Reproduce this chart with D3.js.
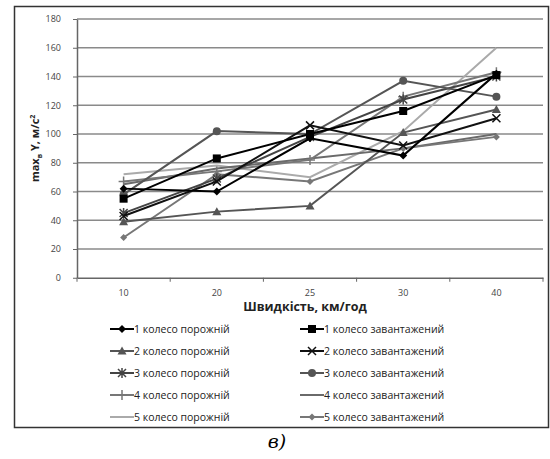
<!DOCTYPE html>
<html>
<head>
<meta charset="utf-8">
<script src="https://cdn.jsdelivr.net/npm/d3@7"></script>
<style>
	body { margin: 0; background: #fff; }
	text { font-family: "Open Sans", "Liberation Sans", sans-serif; }
</style>
</head>
<body>
<div id="chart"></div>
<script>
// speeds, km/h
var speeds = ["10", "20", "25", "30", "40"];
var yTicks = [0, 20, 40, 60, 80, 100, 120, 140, 160, 180];

var names = [
	"1 колесо порожній", "1 колесо завантажений",
	"2 колесо порожній", "2 колесо завантажений",
	"3 колесо порожній", "3 колесо завантажений",
	"4 колесо порожній", "4 колесо завантажений",
	"5 колесо порожній", "5 колесо завантажений"
];

var wheel1Empty  = [62, 60, 97, 85, 142];
var wheel1Loaded = [55, 83, 100, 116, 141];
var wheel2Empty  = [39, 46, 50, 101, 117];
var wheel2Loaded = [43, 67, 106, 92, 111];
var wheel3Empty  = [45, 69, 98, 124, 140];
var wheel3Loaded = [58, 102, 100, 137, 126];
var wheel4Empty  = [67, 74, 82, 126, 143];
var wheel4Loaded = [65, 76, 83, 90, 100];
var wheel5Empty  = [72, 78, 70, 102, 160];
var wheel5Loaded = [28, 72, 67, 90, 98];

var allValues = [wheel1Empty, wheel1Loaded, wheel2Empty, wheel2Loaded, wheel3Empty,
	wheel3Loaded, wheel4Empty, wheel4Loaded, wheel5Empty, wheel5Loaded];

// look of each series: colour and marker
var looks = [
	{c: "#000", m: "diamond"},
	{c: "#000", m: "square"},
	{c: "#555", m: "triangle"},
	{c: "#111", m: "cross"},
	{c: "#444", m: "star"},
	{c: "#555", m: "circle"},
	{c: "#777", m: "plus"},
	{c: "#6a6a6a", m: "none"},
	{c: "#aaa", m: "none"},
	{c: "#777", m: "smalldiamond"}
];

function init(){
	var w = 550;
	var h = 459;
	var left = 77, right = 543, top = 19, bottom = 277.75;

	var svg = d3.select("#chart")
				.append("svg")
				.attr("width", w)
				.attr("height", h);

	// frame round the chart
	svg.append("rect")
		.attr("x", 14.5).attr("y", 6.5)
		.attr("width", 534).attr("height", 421)
		.attr("fill", "none")
		.attr("stroke", "#333")
		.attr("stroke-width", 1.5);

	var x = d3.scaleBand()
				.domain(speeds)
				.range([left, right]);

	var y = d3.scaleLinear()
				.domain([0, 180])
				.range([bottom, top]);

	//gridlines
	svg.selectAll("line.grid")
		.data(yTicks.slice(1))
		.enter()
		.append("line")
		.attr("class", "grid")
		.attr("x1", left).attr("x2", right)
		.attr("y1", function(d){ return y(d); })
		.attr("y2", function(d){ return y(d); })
		.attr("stroke", "#8a8a8a")
		.attr("stroke-width", 1.6);

	var yAxis = svg.append("g")
		.attr("transform", "translate(" + left + ",0)")
		.call(d3.axisLeft(y).tickValues(yTicks).tickSize(4).tickSizeOuter(0));
	yAxis.select(".domain").attr("stroke", "#666").attr("stroke-width", 1.5);
	yAxis.selectAll(".tick line").attr("stroke", "#666");
	yAxis.selectAll("text")
		.attr("x", -16)
		.style("font-size", "9px")
		.attr("fill", "#444");

	var xAxis = svg.append("g")
		.attr("transform", "translate(0," + bottom + ")")
		.call(d3.axisBottom(x).tickSize(0));
	xAxis.select(".domain").attr("stroke", "#666").attr("stroke-width", 1.5);
	xAxis.selectAll("text")
		.attr("y", 12)
		.style("font-size", "9px")
		.attr("fill", "#444");

	// tick marks at category edges
	svg.selectAll("line.xtick")
		.data(speeds.map(function(d){ return x(d); }).concat([right]))
		.enter()
		.append("line")
		.attr("x1", function(d){ return d; })
		.attr("x2", function(d){ return d; })
		.attr("y1", bottom)
		.attr("y2", bottom + 4)
		.attr("stroke", "#666");

	// axis titles
	var yt = svg.append("text")
		.attr("transform", "translate(39," + ((top + bottom) / 2) + ") rotate(-90)")
		.attr("text-anchor", "middle")
		.style("font-size", "11px")
		.style("font-weight", "bold")
		.attr("fill", "#222");
	yt.append("tspan").text("max");
	yt.append("tspan").attr("dy", 3).style("font-size", "7px").text("в");
	yt.append("tspan").attr("dy", -3).text(" Y, м/с");
	yt.append("tspan").attr("dy", -4).style("font-size", "7px").text("2");

	svg.append("text")
		.attr("x", 305).attr("y", 311)
		.attr("text-anchor", "middle")
		.style("font-size", "12.5px")
		.style("font-weight", "bold")
		.attr("fill", "#222")
		.text("Швидкість, км/год");

	var line = d3.line()
		.x(function(d, i){ return x(speeds[i]) + x.bandwidth() / 2; })
		.y(function(d){ return y(d); });

	// draw lighter series first so the dark ones sit on top
	var order = [8, 7, 9, 6, 4, 2, 5, 3, 1, 0];
	order.forEach(function(k){
		var look = looks[k];
		svg.append("path")
			.datum(allValues[k])
			.attr("d", line)
			.attr("fill", "none")
			.attr("stroke", look.c)
			.attr("stroke-width", 2);
		svg.selectAll(null)
			.data(allValues[k])
			.enter()
			.append("g")
			.attr("transform", function(d, i){
				return "translate(" + (x(speeds[i]) + x.bandwidth() / 2) + "," + y(d) + ")";
			})
			.each(function(){ drawMarker(d3.select(this), look.m, look.c); });
	});

	// legend
	var rows = [329, 351, 373, 395, 417];
	var cols = [110, 300];
	names.forEach(function(n, k){
		var gx = cols[k % 2];
		var gy = rows[Math.floor(k / 2)];
		var g = svg.append("g").attr("transform", "translate(" + gx + "," + gy + ")");
		g.append("line")
			.attr("x1", 0).attr("x2", 24)
			.attr("stroke", looks[k].c)
			.attr("stroke-width", 2);
		var mg = g.append("g").attr("transform", "translate(12,0)");
		drawMarker(mg, looks[k].m, looks[k].c);
		g.append("text")
			.attr("x", 24).attr("y", 3.5)
			.style("font-size", "10.5px")
			.attr("fill", "#222")
			.text(n);
	});

	svg.append("text")
		.attr("x", 277).attr("y", 448)
		.attr("text-anchor", "middle")
		.style("font-family", "'DejaVu Serif', serif")
		.style("font-style", "italic")
		.style("font-size", "19px")
		.attr("fill", "#000")
		.text("в)");
}

function drawMarker(g, m, c){
	if (m == "diamond") {
		g.append("path").attr("d", "M0,-4L4,0L0,4L-4,0Z").attr("fill", c);
	} else if (m == "smalldiamond") {
		g.append("path").attr("d", "M0,-3.5L3.5,0L0,3.5L-3.5,0Z").attr("fill", c);
	} else if (m == "square") {
		g.append("rect").attr("x", -4).attr("y", -4).attr("width", 8).attr("height", 8).attr("fill", c);
	} else if (m == "triangle") {
		g.append("path").attr("d", "M0,-4.5L4.5,3.5L-4.5,3.5Z").attr("fill", c);
	} else if (m == "circle") {
		g.append("circle").attr("r", 4).attr("fill", c);
	} else if (m == "cross") {
		g.append("path").attr("d", "M-4,-4L4,4M-4,4L4,-4").attr("stroke", c).attr("stroke-width", 1.5);
	} else if (m == "star") {
		g.append("path").attr("d", "M-4,-4L4,4M-4,4L4,-4M0,-5L0,5").attr("stroke", c).attr("stroke-width", 1.5);
	} else if (m == "plus") {
		g.append("path").attr("d", "M0,-5L0,5M-5,0L5,0").attr("stroke", c).attr("stroke-width", 1.5);
	}
}

window.onload = init;
</script>
</body>
</html>
